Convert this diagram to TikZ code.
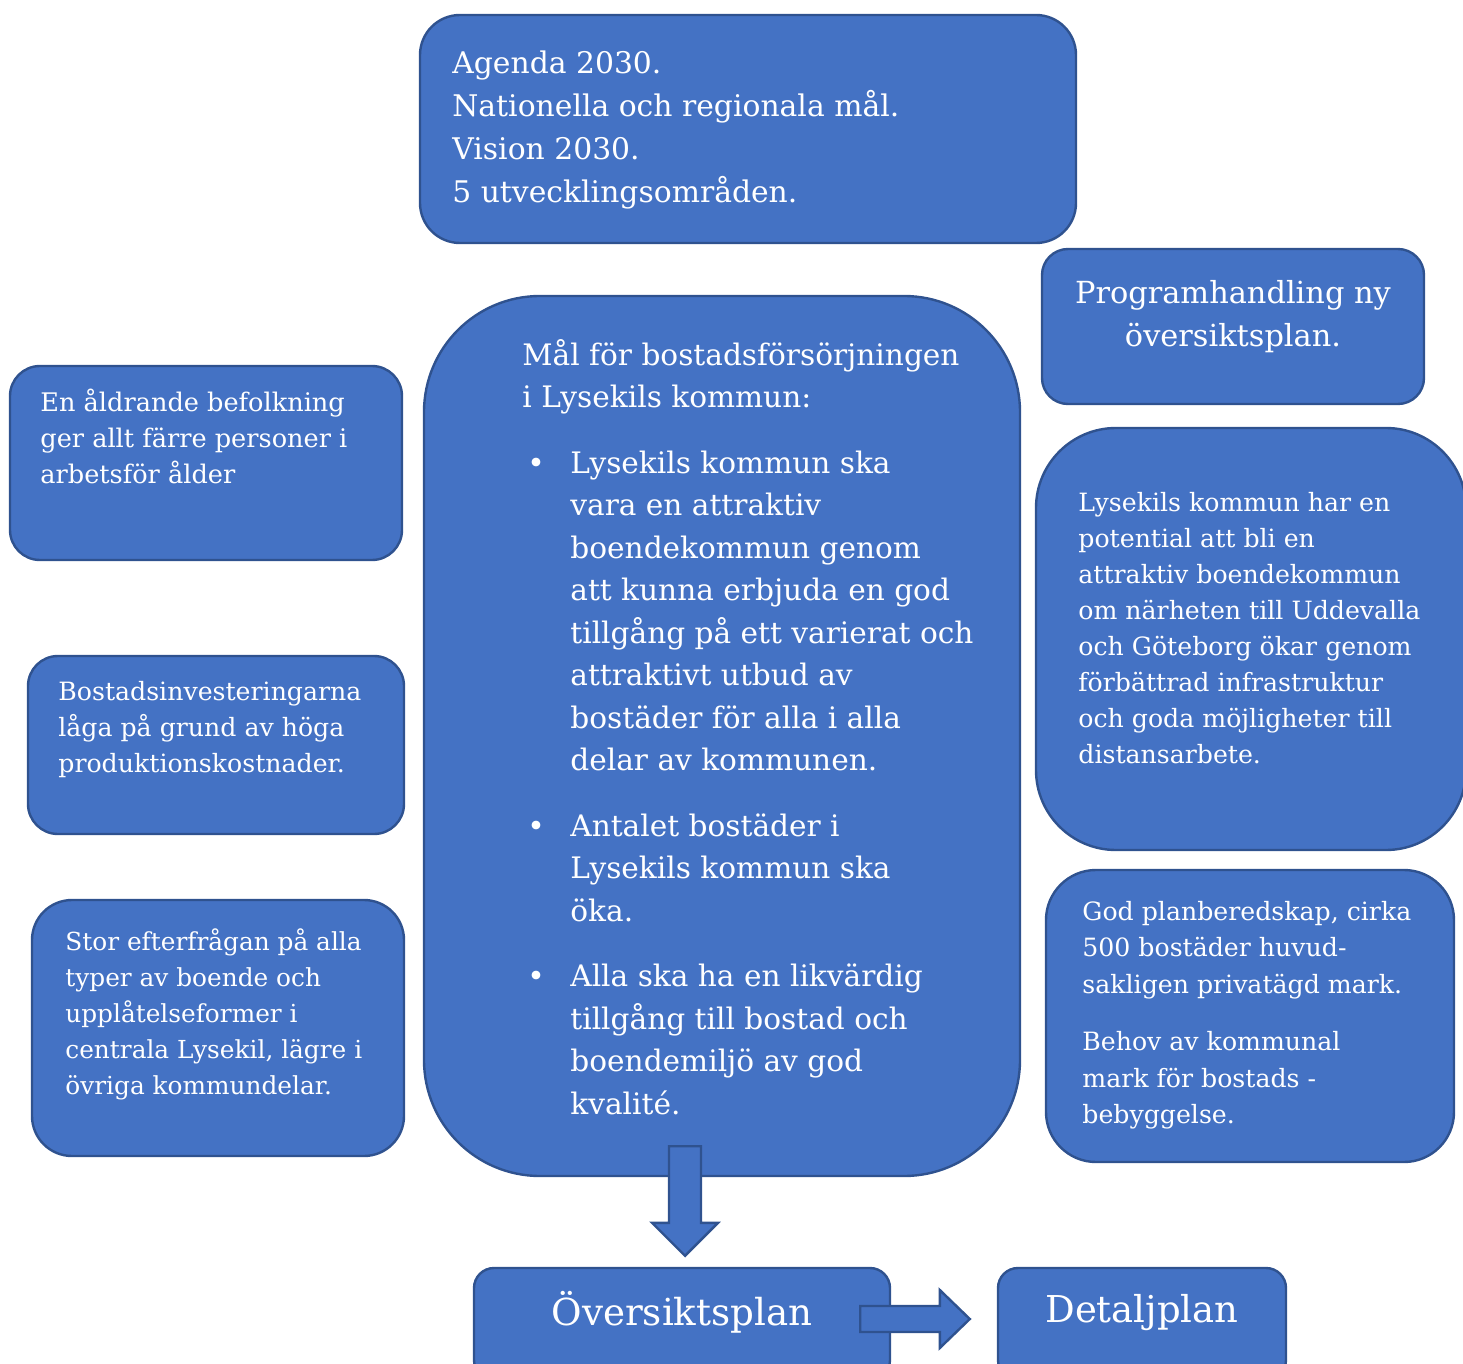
\documentclass[tikz,border=0pt]{standalone}
\usepackage{fontspec}
\setmainfont{DejaVu Serif}
\usetikzlibrary{calc}
\definecolor{boxblue}{HTML}{4472C4}
\definecolor{boxline}{HTML}{2F528F}
\newcommand\mybul{\makebox[24pt][l]{\hspace{2.5pt}•}}
\newcommand\myind{\hspace*{24pt}}
\begin{document}
\begin{tikzpicture}[x=0.5pt,y=-0.5pt,
  bx/.style={draw=boxline,fill=boxblue,line width=1.2pt,inner sep=0pt},
  txt/.style={text=white,align=left,inner sep=0pt,anchor=north west},
  blk/.style={draw=boxline,fill=boxblue,line width=1.2pt,line join=miter}]
\useasboundingbox (0,0) rectangle (1463,1364);
% boxes
\node[bx,minimum width=328pt,minimum height=114pt,rounded corners=20pt] (agenda) at (748,129) {};
\node[bx,minimum width=191pt,minimum height=77.5pt,rounded corners=13pt] (prog) at (1233,326.5) {};
\node[bx,minimum width=298pt,minimum height=440pt,rounded corners=58pt] (main) at (722,736) {};
\node[bx,minimum width=196pt,minimum height=97pt,rounded corners=15pt] (left1) at (206,463) {};
\node[bx,minimum width=188pt,minimum height=89pt,rounded corners=15pt] (left2) at (216,745) {};
\node[bx,minimum width=186pt,minimum height=128pt,rounded corners=20pt] (left3) at (218,1028) {};
\node[bx,minimum width=215pt,minimum height=211pt,rounded corners=40pt] (right1) at (1251,639) {};
\node[bx,minimum width=204pt,minimum height=146pt,rounded corners=25pt] (right2) at (1250,1016) {};
\node[bx,minimum width=208pt,minimum height=56pt,rounded corners=10pt] (overs) at (682,1324) {};
\node[bx,minimum width=144pt,minimum height=56pt,rounded corners=10pt] (detalj) at (1142,1324) {};
% texts
\node[txt,font=\fontsize{14.9}{21.5}\selectfont] (agendaT) at (452,50)
 {Agenda 2030.\\Nationella och regionala mål.\\Vision 2030.\\5 utvecklingsområden.};
\node[txt,align=center,anchor=north,font=\fontsize{15.2}{21.5}\selectfont] (progT) at (1233,280)
 {Programhandling ny\\översiktsplan.};
\node[txt,font=\fontsize{14.8}{21.25}\selectfont] (mainT) at (522,339)
 {Mål för bostadsförsörjningen\\i Lysekils kommun:\\[11.5pt]%
 \mybul Lysekils kommun ska\\\myind vara en attraktiv\\\myind boendekommun genom\\\myind att kunna erbjuda en god\\\myind tillgång på ett varierat och\\\myind attraktivt utbud av\\\myind bostäder för alla i alla\\\myind delar av kommunen.\\[11.5pt]%
 \mybul Antalet bostäder i\\\myind Lysekils kommun ska\\\myind öka.\\[11.5pt]%
 \mybul Alla ska ha en likvärdig\\\myind tillgång till bostad och\\\myind boendemiljö av god\\\myind kvalité.};
\node[txt,font=\fontsize{12.8}{18}\selectfont] (left1T) at (40,389)
 {En åldrande befolkning\\ger allt färre personer i\\arbetsför ålder};
\node[txt,font=\fontsize{12.6}{18}\selectfont] (left2T) at (58,681)
 {Bostadsinvesteringarna\\låga på grund av höga\\produktionskostnader.};
\node[txt,font=\fontsize{12.4}{18}\selectfont] (left3T) at (65,928)
 {Stor efterfrågan på alla\\typer av boende och\\upplåtelseformer i\\centrala Lysekil, lägre i\\övriga kommundelar.};
\node[txt,font=\fontsize{12.6}{18}\selectfont] (right1T) at (1078,492)
 {Lysekils kommun har en\\potential att bli en\\attraktiv boendekommun\\om närheten till Uddevalla\\och Göteborg ökar genom\\förbättrad infrastruktur\\och goda möjligheter till\\distansarbete.};
\node[txt,font=\fontsize{12.6}{18.2}\selectfont] (right2T) at (1082,901)
 {God planberedskap, cirka\\500 bostäder huvud-\\sakligen privatägd mark.\\[10.5pt]Behov av kommunal\\mark för bostads -\\bebyggelse.};
\node[text=white,inner sep=0pt,anchor=base,font=\fontsize{18.6}{22}\selectfont] (oversT) at (682,1325) {Översiktsplan};
\node[text=white,inner sep=0pt,anchor=base,font=\fontsize{18.5}{22}\selectfont] (detaljT) at (1142,1322) {Detaljplan};
% block arrows
\coordinate (dA) at ($(main.south)+(-37,-31)$);
\coordinate (dB) at ($(overs.north)+(3,-11)$);
\draw[blk] ($(dA)+(-16,0)$) -- ($(dA)+(16,0)$) -- ($(dB)+(16,-33)$) -- ($(dB)+(33,-33)$)
  -- (dB) -- ($(dB)+(-33,-33)$) -- ($(dB)+(-16,-33)$) -- cycle;
\coordinate (rA) at ($(overs.east)+(-31,-5)$);
\coordinate (rB) at ($(detalj.west)+(-27,-5)$);
\draw[blk] ($(rA)+(0,-13)$) -- ($(rB)+(-30,-13)$) -- ($(rB)+(-30,-29)$) -- (rB)
  -- ($(rB)+(-30,29)$) -- ($(rB)+(-30,13)$) -- ($(rA)+(0,13)$) -- cycle;
\end{tikzpicture}
\end{document}
